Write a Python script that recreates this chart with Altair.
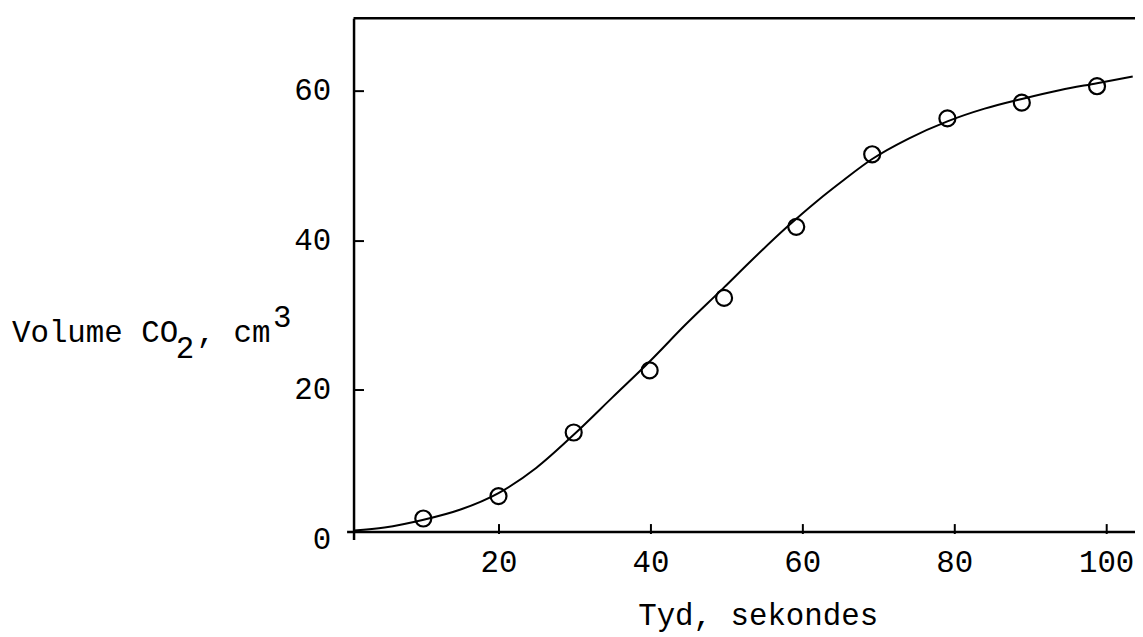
import altair as alt
import pandas as pd

# measured data points (time s, volume cm3)
pt_time = [10.1, 20.0, 29.9, 39.9, 49.7, 59.2, 69.2, 79.1, 88.9, 98.8]
pt_vol = [2.8, 5.8, 14.3, 22.6, 32.3, 41.8, 51.5, 56.3, 58.4, 60.6]

# fitted curve
curve_time = [1.0, 5.0, 10.0, 15.0, 20.0, 25.0, 30.0, 35.0, 40.0, 44.6, 49.7,
              53.3, 57.9, 62.0, 65.5, 69.1, 74.0, 79.1, 84.0, 88.9, 94.0, 98.8, 103.5]
curve_vol = [1.2, 1.6, 2.6, 4.0, 6.2, 9.6, 14.1, 19.0, 23.9, 28.7, 33.7,
             37.3, 41.7, 45.3, 48.1, 50.8, 53.6, 55.9, 57.6, 58.9, 60.1, 61.0, 61.9]

x_ticks = [20, 40, 60, 80, 100]
y_ticks = [0, 20, 40, 60]
y_inner_ticks = [20, 40, 60]
x_title = "Tyd, sekondes"
y_title_parts = ["Volume CO", "2", ", cm", "3"]

W, H = 794, 525
FONT = "Liberation Mono"
FS = 31

pts = pd.DataFrame({"t": pt_time, "v": pt_vol})
crv = pd.DataFrame({"t": curve_time, "v": curve_vol})

xs = alt.Scale(domain=[0, 103.8], nice=False, zero=False)
ys = alt.Scale(domain=[0, 69.7], nice=False, zero=False)

line = alt.Chart(crv).mark_line(color="black", strokeWidth=2, interpolate="monotone").encode(
    x=alt.X("t:Q", scale=xs, axis=alt.Axis(
        orient="bottom", values=x_ticks, offset=-8, domainWidth=2.5, domainColor="black",
        ticks=True, tickSize=2, tickWidth=2, tickColor="black", labelPadding=14,
        labelFont=FONT, labelFontSize=FS, labelColor="black", grid=False,
        title=x_title, titleFont=FONT, titleFontSize=FS, titleFontWeight="normal",
        titleColor="black", titleX=414, titleY=94, titleAlign="center",
        titleBaseline="alphabetic")),
    y=alt.Y("v:Q", scale=ys, axis=alt.Axis(
        orient="left", values=y_ticks, offset=-7, domainWidth=2.5, domainColor="black",
        ticks=False, labelPadding=23, labelFont=FONT, labelFontSize=FS,
        labelColor="black", grid=False, title=None)),
)

points = alt.Chart(pts).mark_point(shape="circle", size=260, filled=False, color="black",
                                   strokeWidth=2.2, opacity=1).encode(
    x=alt.X("t:Q", scale=xs, axis=alt.Axis(
        orient="top", values=x_ticks, offset=-517, domain=False, labels=False,
        ticks=True, tickSize=8, tickWidth=2, tickColor="black", grid=False, title=None)),
    y=alt.Y("v:Q", scale=ys, axis=alt.Axis(
        orient="right", values=y_inner_ticks, offset=-787, domain=False, labels=False,
        ticks=True, tickSize=10, tickWidth=2, tickColor="black", grid=False, title=None)),
)

one = alt.InlineData(values=[{}])

border = alt.Chart(one).mark_rule(color="black", strokeWidth=2.5).encode(
    x=alt.value(7), x2=alt.value(W), y=alt.value(0))


def txt(s, x, y):
    return alt.Chart(one).mark_text(text=s, font=FONT, fontSize=FS, align="left",
                                    baseline="alphabetic", color="black").encode(
        x=alt.value(x), y=alt.value(y))


t1 = txt(y_title_parts[0], -337, 326)
t2 = txt(y_title_parts[1], -172, 342)
t3 = txt(y_title_parts[2], -151, 326)
t4 = txt(y_title_parts[3], -74, 311)

chart = alt.layer(line, points, border, t1, t2, t3, t4).resolve_axis(
    x="independent", y="independent"
).properties(
    width=W, height=H,
    padding={"left": 341, "top": 8, "right": 0, "bottom": 96},
    autosize=alt.AutoSizeParams(type="none"),
    background="white",
).configure_view(strokeWidth=0)

chart.save("out.html", embed_options={"renderer": "svg", "actions": False})
